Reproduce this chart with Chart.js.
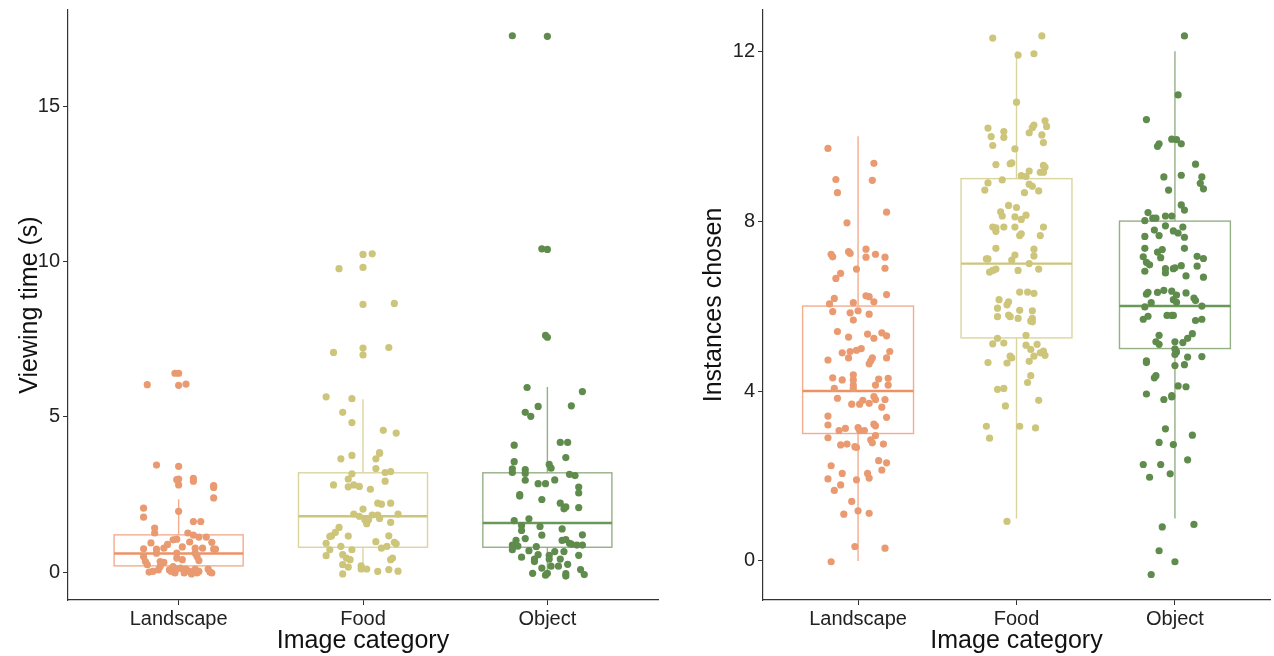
<!DOCTYPE html>
<html>
<head>
<meta charset="utf-8">
<script src="https://cdn.jsdelivr.net/npm/chart.js@4/dist/chart.umd.min.js"></script>
<style>
  html, body { margin: 0; padding: 0; background: #fff; }
  body { width: 1274px; height: 656px; position: relative; overflow: hidden; }
  canvas { position: absolute; top: 0; }
</style>
</head>
<body>
<canvas id="viewChart" width="665" height="656" style="left:0"></canvas>
<canvas id="choiceChart" width="594" height="656" style="left:680px"></canvas>
<script>
// categories and tick labels
const categories = ['Landscape', 'Food', 'Object'];
const viewTicks = [0, 5, 10, 15];
const choiceTicks = [0, 4, 8, 12];

// box stats per category: [lower whisker, q1, median, q3, upper whisker]
const viewBoxes = [[0, 0.2, 0.6, 1.2, 2.35], [0, 0.8, 1.8, 3.2, 5.57], [0, 0.8, 1.58, 3.2, 5.97]];
const choiceBoxes = [[0, 3, 4, 6, 10], [1, 5.25, 7, 9, 12], [1, 5, 6, 8, 12]];

// jittered observations: [horizontal jitter, value]
const viewLandscape = [
  [-0.17,6.04],[-0.02,6.41],[0.0,6.41],[0.0,6.02],[0.04,6.06],
  [-0.12,3.45],[0.0,3.41],[-0.01,2.98],[0.0,3.0],[0.0,2.81],[0.08,3.02],[0.08,2.93],[0.19,2.79],[0.19,2.73],[0.19,2.39],
  [-0.19,2.06],[-0.19,1.77],[0.0,1.96],[0.08,1.63],[0.12,1.63],[-0.13,1.42],[-0.13,1.26],
  [0.05,1.26],[0.08,1.19],[0.11,1.13],[0.15,1.13],[0.18,0.96],[-0.15,0.94],[-0.03,1.04],[-0.01,1.06],
  [-0.06,0.89],[-0.08,0.77],[0.02,0.81],[0.06,0.97],[0.09,0.77],[0.13,0.77],[0.19,0.74],[0.20,0.74],
  [-0.19,0.75],[-0.12,0.74],[-0.12,0.61],[-0.01,0.61],[-0.01,0.45],[0.02,0.40],[0.09,0.61],[0.10,0.50],
  [0.11,0.37],[-0.19,0.50],[-0.18,0.34],[-0.17,0.24],[-0.10,0.34],[-0.08,0.31],[-0.10,0.18],[-0.11,0.07],
  [-0.16,0.0],[-0.14,0.02],[-0.05,0.07],[-0.03,0.18],[-0.02,-0.03],[-0.01,0.10],[0.01,0.13],[0.04,0.10],
  [0.06,0.02],[0.07,-0.06],[0.09,0.10],[0.11,0.02],[0.16,0.10],[0.17,0.0],[0.18,-0.03],[-0.04,0.02],
  [0.03,-0.03],[0.10,-0.03]
];
const viewFood = [
  [0.0,10.24],[0.05,10.26],[-0.13,9.78],[0.0,9.82],[0.0,8.63],[0.17,8.66],[-0.16,7.08],[0.0,7.22],[0.0,7.0],[0.14,7.24],
  [-0.20,5.65],[-0.06,5.59],[-0.11,5.15],[-0.06,4.82],[0.11,4.57],[0.18,4.48],
  [-0.12,3.65],[-0.06,3.76],[0.09,3.85],[0.09,3.83],[0.07,3.65],[0.07,3.34],[0.12,3.21],[0.15,3.24],[-0.06,3.17],[-0.08,3.0],
  [-0.16,2.81],[-0.08,2.75],[-0.05,2.81],[-0.02,2.76],[0.04,2.67],[0.12,2.93],[0.08,2.22],[0.10,2.19],[0.15,2.22],[0.0,2.03],
  [-0.05,1.87],[-0.02,1.80],[0.01,1.69],[0.02,1.56],[0.03,1.69],[0.05,1.84],[0.08,1.84],[0.09,1.73],[0.19,1.87],[0.15,1.60],
  [-0.13,1.44],[-0.15,1.28],[-0.17,1.17],[-0.18,1.15],[-0.08,1.16],[-0.20,0.93],[-0.12,0.83],[-0.18,0.72],[-0.06,0.72],
  [0.07,0.98],[0.10,0.77],[0.13,0.83],[0.14,1.17],[0.17,0.96],[0.18,0.91],
  [-0.20,0.53],[-0.11,0.56],[-0.09,0.45],[-0.07,0.40],[-0.11,0.24],[-0.08,0.16],[-0.11,-0.06],[0.16,0.45],[0.15,0.40],
  [-0.01,0.20],[-0.01,0.10],[0.02,0.10],[0.08,0.02],[0.14,0.08],[0.19,0.03]
];
const viewObject = [
  [-0.19,17.29],[0.0,17.27],[-0.03,10.42],[0.0,10.40],[-0.01,7.63],[0.0,7.57],
  [-0.11,5.95],[0.19,5.82],[-0.05,5.34],[0.13,5.36],[-0.12,5.15],[-0.09,5.02],
  [-0.18,4.09],[0.07,4.18],[0.11,4.18],[0.10,3.69],[-0.18,3.56],[-0.19,3.21],[-0.19,3.33],[-0.12,3.30],[-0.12,3.18],
  [0.01,3.47],[0.02,3.35],[0.12,3.15],[0.15,3.11],
  [-0.12,2.96],[-0.05,2.85],[-0.01,2.85],[0.04,2.97],[0.17,2.74],[0.17,2.55],[-0.15,2.50],[-0.15,2.45],[-0.03,2.34],
  [0.07,2.22],[0.09,2.04],[0.10,2.10],[0.17,2.08],
  [-0.18,1.66],[-0.10,1.72],[-0.14,1.50],[-0.14,1.34],[-0.04,1.47],[0.08,1.39],[-0.12,1.08],[-0.17,1.02],[-0.19,0.87],
  [-0.16,0.84],[-0.19,0.72],[-0.03,1.19],
  [0.08,1.02],[0.10,1.05],[0.12,0.93],[0.13,0.90],[0.16,0.87],[0.19,1.20],[0.19,0.87],[-0.06,0.82],[-0.10,0.69],[-0.14,0.48],
  [-0.05,0.56],[-0.07,0.42],[-0.07,0.34],[0.01,0.54],[0.01,0.42],[0.04,0.66],[0.09,0.66],[0.07,0.42],[0.11,0.25],[0.17,0.54],
  [-0.08,-0.04],[-0.03,0.13],[0.0,-0.04],[-0.01,-0.10],[0.02,0.19],[0.06,0.19],[0.10,-0.05],[0.10,-0.13],[0.18,0.08],[0.20,-0.08]
];
const choiceLandscape = [
  [-0.19,9.71],[0.10,9.36],[-0.14,8.98],[0.09,8.96],[-0.13,8.67],[0.18,8.21],[-0.07,7.96],
  [-0.17,7.22],[-0.16,7.16],[-0.06,7.28],[-0.05,7.24],[0.05,7.34],[0.05,7.15],[0.11,7.22],[0.17,7.15],[0.17,6.89],
  [-0.01,6.87],[-0.11,6.77],[-0.14,6.65],[0.18,6.27],[-0.15,6.18],[-0.18,6.05],[-0.03,6.08],
  [0.05,6.24],[0.07,6.22],[0.10,6.10],[-0.16,5.87],[-0.05,5.84],[0.0,5.89],[0.07,5.81],[-0.03,5.67],
  [-0.13,5.40],[-0.06,5.27],[0.06,5.34],[0.10,5.24],[0.15,5.37],[0.18,5.30],
  [-0.10,4.90],[-0.05,4.93],[-0.01,4.96],[0.02,5.0],[-0.19,4.73],[-0.06,4.78],[0.09,4.78],[0.08,4.71],[0.07,4.64],
  [0.18,4.78],[0.20,4.93],[-0.16,4.31],[-0.10,4.26],[-0.03,4.38],[-0.03,4.26],[-0.03,4.14],
  [0.13,4.28],[0.19,4.30],[0.19,4.14],[0.11,4.14],[-0.15,4.06],[-0.03,4.06],[-0.13,3.83],
  [-0.04,3.69],[0.01,3.69],[0.03,3.78],[0.07,3.71],[0.10,3.87],[0.11,3.80],[0.15,3.62],[0.17,3.80],
  [-0.19,3.41],[0.18,3.38],[-0.19,3.20],[0.10,3.22],[0.11,3.18],[-0.12,3.07],[-0.08,3.12],
  [0.0,3.14],[0.01,3.07],[0.04,3.07],[-0.19,2.90],[-0.11,2.73],[-0.07,2.75],[0.08,2.85],[0.09,2.78],
  [0.11,2.95],[0.16,2.75],[-0.02,2.69],[-0.01,2.67],[0.13,2.36],[0.18,2.31],[0.15,2.14],
  [-0.17,2.24],[-0.10,2.06],[0.06,2.06],[0.07,1.95],[-0.19,1.93],[-0.11,1.79],[-0.15,1.66],[-0.01,1.91],
  [-0.04,1.40],[-0.09,1.10],[0.0,1.18],[0.07,1.12],[-0.02,0.34],[0.17,0.30],[-0.17,-0.02]
];
const choiceFood = [
  [-0.15,12.31],[0.16,12.36],[0.01,11.91],[0.11,11.94],[0.0,10.80],[-0.18,10.19],[-0.08,10.11],[-0.08,9.97],
  [-0.16,9.99],[-0.15,9.78],[0.08,10.08],[0.10,10.20],[0.11,10.26],[0.18,10.36],[0.19,10.23],[0.16,10.03],[0.17,9.85],
  [-0.01,9.70],[-0.13,9.33],[-0.04,9.35],[-0.03,9.37],[0.17,9.31],[0.18,9.27],[0.17,9.15],[0.15,9.15],[0.08,9.18],[0.03,9.07],
  [-0.09,8.97],[0.06,9.05],[-0.18,8.90],[-0.20,8.73],[0.08,8.87],[0.10,8.82],[0.14,8.71],[0.05,8.67],
  [-0.05,8.37],[0.0,8.32],[-0.10,8.22],[-0.09,8.12],[-0.01,8.10],[0.06,8.14],[0.03,8.04],
  [-0.15,7.86],[-0.13,7.84],[-0.13,7.76],[-0.08,7.86],[-0.01,7.86],[0.02,7.66],[0.03,7.70],[0.15,7.66],[0.17,7.86],
  [-0.13,7.36],[0.11,7.34],[0.11,7.18],[-0.19,7.11],[-0.18,7.11],[-0.01,7.20],[-0.03,7.08],[0.08,7.0],
  [-0.17,6.80],[-0.15,6.84],[-0.13,6.87],[0.01,6.84],[0.14,6.87],[0.02,6.33],[0.07,6.33],[0.11,6.30],
  [-0.11,6.15],[-0.12,5.95],[-0.05,6.10],[-0.06,6.03],[-0.12,5.75],[-0.05,5.79],[-0.04,5.75],[0.01,5.71],[0.02,5.90],
  [0.10,5.89],[0.10,5.71],[0.10,5.63],[0.09,5.65],[-0.12,5.24],[-0.15,5.11],[-0.08,5.13],[0.06,5.31],
  [0.06,5.08],[0.09,4.98],[0.13,5.10],[0.11,4.82],[0.15,4.90],[0.17,4.94],[0.18,4.84],
  [-0.18,4.67],[-0.06,4.66],[-0.04,4.82],[-0.03,4.78],[0.08,4.70],[0.09,4.36],[0.07,4.20],
  [-0.12,4.04],[-0.08,4.06],[0.14,3.78],[-0.07,3.65],[-0.19,3.17],[-0.17,2.89],[0.02,3.17],[0.12,3.13],[-0.06,0.93]
];
const choiceObject = [
  [0.06,12.36],[0.02,10.97],[-0.18,10.39],[-0.10,9.82],[-0.11,9.76],[-0.02,9.93],[0.01,9.92],[0.04,9.82],
  [0.13,9.34],[-0.07,9.04],[0.04,9.08],[0.17,9.04],[0.16,8.89],[0.18,8.76],[-0.04,8.73],[0.04,8.38],[0.06,8.26],
  [-0.17,8.20],[-0.19,8.01],[-0.14,8.07],[-0.12,8.07],[-0.06,8.12],[-0.02,8.12],[-0.06,7.89],[0.05,7.86],
  [-0.13,7.79],[-0.01,7.77],[0.02,7.72],[-0.19,7.64],[-0.10,7.66],[0.06,7.62],[-0.19,7.36],[-0.11,7.27],
  [-0.08,7.33],[-0.09,7.14],[0.06,7.36],[-0.20,7.16],[-0.18,7.03],[-0.16,6.97],[0.14,7.17],[0.18,7.12],[0.14,6.94],
  [-0.06,6.88],[-0.06,6.78],[-0.01,6.88],[0.0,6.90],[0.04,6.95],[-0.19,6.82],[0.07,6.71],[0.18,6.68],
  [-0.18,6.28],[-0.17,6.32],[-0.11,6.32],[-0.07,6.37],[-0.02,6.35],[0.01,6.26],[0.07,6.31],[0.12,6.19],[0.13,6.13],
  [-0.15,6.08],[-0.19,5.98],[-0.01,6.15],[0.01,6.09],[0.17,6.0],[-0.20,5.69],[-0.17,5.76],[-0.05,5.78],[-0.02,5.78],
  [-0.01,5.78],[0.13,5.66],[0.17,5.69],[-0.10,5.31],[-0.12,5.16],[-0.10,5.10],[0.0,5.16],[0.05,5.14],[0.08,5.24],
  [0.11,5.35],[0.0,4.99],[0.01,4.92],[0.0,4.86],[-0.18,4.71],[-0.18,4.67],[0.08,4.80],[0.17,4.81],[0.0,4.60],
  [0.06,4.62],[-0.13,4.31],[-0.12,4.36],[0.02,4.12],[0.07,4.10],[-0.18,3.93],[-0.07,3.80],[-0.02,3.86],[-0.02,3.89],
  [-0.06,3.11],[0.11,2.96],[-0.10,2.79],[-0.01,2.74],[0.08,2.38],[-0.20,2.27],[-0.09,2.27],[-0.16,1.97],[-0.03,2.05],
  [-0.08,0.80],[0.12,0.86],[-0.10,0.24],[0.0,-0.02],[-0.15,-0.32]
];

const pointColors = ['#EA9A70', '#CDC57A', '#5F8B4C'];
const boxColors = ['#F2AD8F', '#DAD59E', '#94B087'];
const medianColors = ['#EE9266', '#CCC67C', '#6A9859'];
const fontFamily = '"Liberation Sans", Arial, sans-serif';

// draws the boxplots under the points, through the chart scales
const boxPlugin = {
    id: 'boxes',
    beforeDatasetsDraw(chart) {
        const boxes = chart.options.plugins.boxes.stats;
        const xs = chart.scales.x, ys = chart.scales.y;
        const ctx = chart.ctx;
        ctx.save();
        boxes.forEach((b, i) => {
            const c = i + 1;
            const xl = xs.getPixelForValue(c - 0.35), xr = xs.getPixelForValue(c + 0.35);
            const xm = xs.getPixelForValue(c);
            const [lo, q1, med, q3, hi] = b.map(v => ys.getPixelForValue(v));
            ctx.strokeStyle = boxColors[i];
            ctx.lineWidth = 1.4;
            ctx.beginPath();
            ctx.moveTo(xm, q3); ctx.lineTo(xm, hi);
            ctx.moveTo(xm, q1); ctx.lineTo(xm, lo);
            ctx.stroke();
            ctx.strokeRect(xl, q3, xr - xl, q1 - q3);
            ctx.strokeStyle = medianColors[i];
            ctx.lineWidth = 2.4;
            ctx.beginPath();
            ctx.moveTo(xl, med); ctx.lineTo(xr, med);
            ctx.stroke();
        });
        ctx.restore();
    }
};

function makeChart(id, groups, stats, yMin, yMax, yTicks, yTitle, yWidth, padRight, titlePad) {
    const datasets = groups.map((g, i) => ({
        data: g.map(p => ({ x: i + 1 + p[0], y: p[1] })),
        backgroundColor: pointColors[i],
        borderWidth: 0,
        pointRadius: 3.6
    }));
    return new Chart(document.getElementById(id), {
        type: 'scatter',
        data: { datasets },
        plugins: [boxPlugin],
        options: {
            responsive: false,
            animation: false,
            layout: { padding: { top: 10, right: padRight, bottom: 0, left: 0 } },
            plugins: {
                legend: { display: false },
                tooltip: { enabled: false },
                boxes: { stats }
            },
            scales: {
                x: {
                    type: 'linear', min: 0.4, max: 3.6,
                    afterBuildTicks: s => { s.ticks = [1, 2, 3].map(v => ({ value: v })); },
                    afterFit: s => { s.height = 56; s.paddingLeft = 0; s.paddingRight = 0; },
                    ticks: {
                        callback: v => categories[Math.round(v) - 1],
                        color: '#222', font: { family: fontFamily, size: 20 }, padding: 2, maxRotation: 0
                    },
                    grid: { drawOnChartArea: false, drawTicks: true, tickLength: 5, color: '#333' },
                    border: { display: true, color: '#333', width: 1.2 },
                    title: { display: true, text: 'Image category', color: '#111',
                             font: { family: fontFamily, size: 25 }, padding: { top: 0, bottom: 0 } }
                },
                y: {
                    type: 'linear', min: yMin, max: yMax,
                    afterBuildTicks: s => { s.ticks = yTicks.map(v => ({ value: v })); },
                    afterFit: s => { s.width = yWidth; s.paddingTop = 0; s.paddingBottom = 0; },
                    ticks: { color: '#222', font: { family: fontFamily, size: 20 }, padding: 3 },
                    grid: { drawOnChartArea: false, drawTicks: true, tickLength: 5, color: '#333' },
                    border: { display: true, color: '#333', width: 1.2 },
                    title: { display: true, text: yTitle, color: '#111',
                             font: { family: fontFamily, size: 25 }, padding: { top: titlePad, bottom: 0 } }
                }
            }
        }
    });
}

makeChart('viewChart', [viewLandscape, viewFood, viewObject], viewBoxes,
          -0.9, 18.12, viewTicks, 'Viewing time (s)', 68, 7, 15);
makeChart('choiceChart', [choiceLandscape, choiceFood, choiceObject], choiceBoxes,
          -0.92, 12.97, choiceTicks, 'Instances chosen', 83, 1, 19);
</script>
</body>
</html>
